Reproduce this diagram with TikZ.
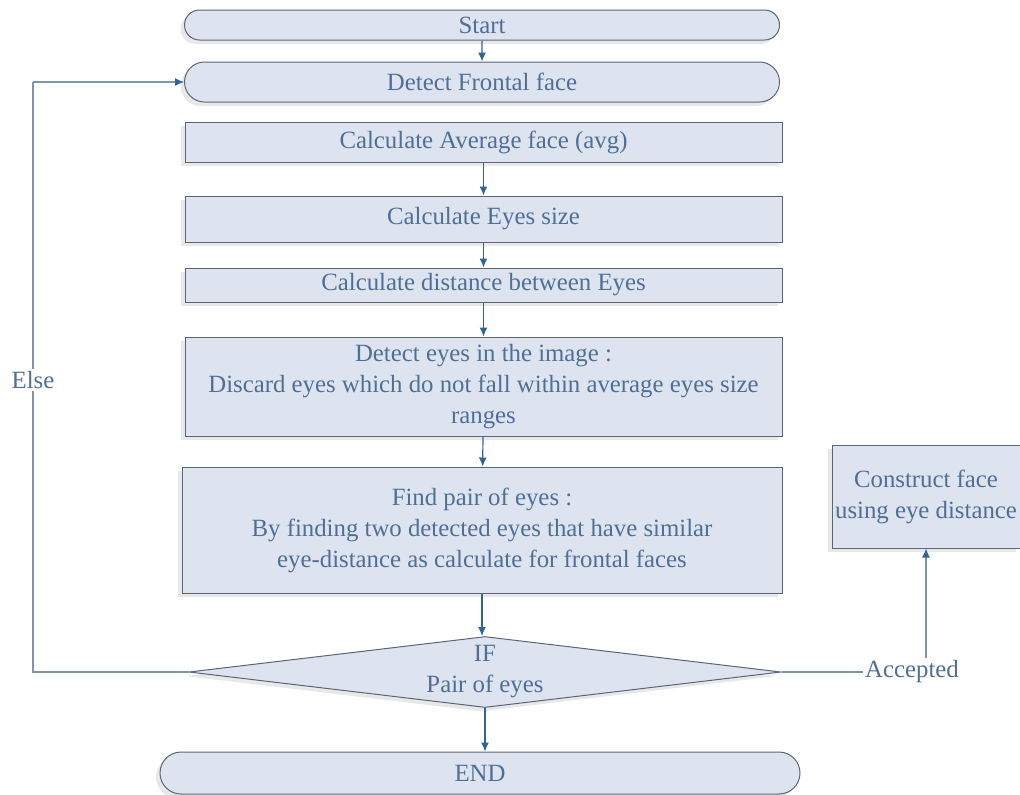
\documentclass[tikz,border=0pt]{standalone}
\usepackage{fontspec}
\setmainfont{Liberation Serif}
\usetikzlibrary{shapes.misc,shapes.geometric,shadows,arrows.meta}

\definecolor{boxfill}{HTML}{DDE4F0}
\definecolor{boxline}{HTML}{5B6675}
\definecolor{boxtext}{HTML}{4F6F96}
\definecolor{flowline}{HTML}{2F6496}
\definecolor{loopline}{HTML}{7F95AD}

\tikzset{
	base/.style={draw=boxline, fill=boxfill, text=boxtext, inner sep=0pt,
		line width=0.5pt, align=center,
		font=\fontsize{12.4}{15.5}\selectfont,
		drop shadow={shadow xshift=-2pt, shadow yshift=-2pt, opacity=.18}},
	term/.style={base, rounded rectangle, minimum width=297.5pt},
	proc/.style={base, rectangle, minimum width=298.5pt},
	decide/.style={base, diamond, aspect=8, minimum width=296pt, minimum height=35.5pt},
	flow/.style={draw=flowline, line width=0.6pt, -{Latex[length=4.5pt,width=4pt,color=flowline]}},
	loop/.style={draw=loopline, line width=0.6pt},
	tag/.style={text=boxtext, fill=white, inner sep=1pt,
		font=\fontsize{12.4}{15.5}\selectfont}
}

\begin{document}
\begin{tikzpicture}[x=0.5pt, y=-0.5pt]
	\useasboundingbox (0,0) rectangle (1020,794);

	\node[term, minimum height=15pt] (start) at (482,25) {Start};
	\node[term, minimum height=20pt] (frontal) at (482,82) {Detect Frontal face};
	\node[proc, minimum height=20pt] (avg) at (483.5,142) {Calculate Average face (avg)};
	\node[proc, minimum height=23pt] (size) at (483.5,219) {Calculate Eyes size};
	\node[proc, minimum height=17pt] (dist) at (483.5,285) {Calculate distance between Eyes};
	\node[proc, minimum height=49.5pt] (detect) at (483.5,386.5)
		{Detect eyes in the image :\\Discard eyes which do not fall within average eyes size\\ranges};
	\node[proc, minimum width=300pt, minimum height=63pt] (pair) at (482,530)
		{Find pair of eyes :\\By finding two detected eyes that have similar\\eye-distance as calculate for frontal faces};
	\node[decide] (if) at (485,672) {IF\\Pair of eyes};
	\node[term, minimum width=320pt, minimum height=21pt] (end) at (480,773) {END};
	\node[proc, minimum width=94pt, minimum height=51.5pt] (build) at (926,496.5)
		{Construct face\\using eye distance};

	% main flow
	\draw[flow] (start) -- (frontal);
	\draw[flow] (avg) -- (size);
	\draw[flow] (size) -- (dist);
	\draw[flow] (dist) -- (detect);
	\draw[flow] (detect) -- (pair);
	\draw[flow] (pair.south) -- (pair.south |- if.north);
	\draw[flow] (if.south) -- (if.south |- end.north);

	% else branch back to the top
	\coordinate (elsebend) at (33,672);
	\coordinate (elsetop) at (33,82);
	\draw[loop] (if.west) -- (elsebend) -- (elsetop);
	\draw[flow, draw=loopline] (elsetop) -- (frontal.west);
	\node[tag] (else) at (33,380) {Else};

	% accepted branch
	\node[tag] (acc) at (912,672) {Accepted};
	\draw[loop] (if.east) -- (acc.west);
	\draw[flow, draw=loopline] (acc.north -| build.south) -- (build.south);
\end{tikzpicture}
\end{document}
